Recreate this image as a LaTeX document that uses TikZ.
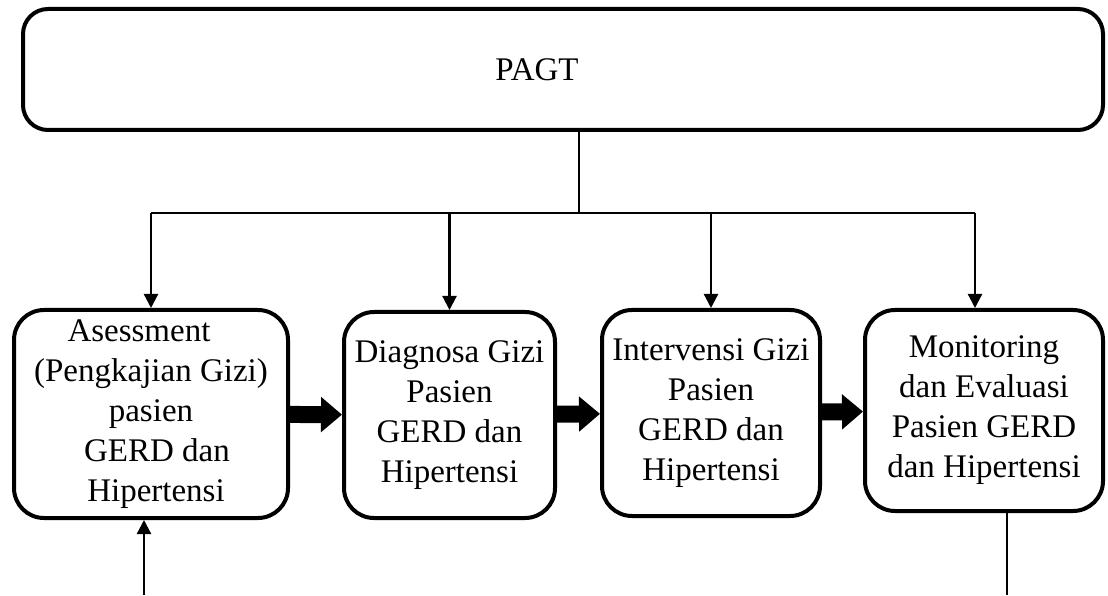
\documentclass[tikz,border=0pt]{standalone}
\usepackage{fontspec}
\setmainfont{Liberation Serif}
\usetikzlibrary{arrows.meta}

\begin{document}
\begin{tikzpicture}[
      x=1pt, y=1pt,
      box/.style={draw, line width=4pt, rounded corners=30pt, align=center,
                  font=\fontsize{33}{40}\selectfont, inner sep=0pt},
      arr/.style={line width=2.2pt, -{Triangle[length=14pt,width=14pt]}},
      heavy/.style={line width=17pt, -{Triangle[length=21pt,width=34pt]}}]
    \useasboundingbox (0,0) rectangle (1108,595);

    \node [box, rounded corners=25pt, minimum width=1080, minimum height=121]
          (pagt) at (563, 525.5) {PAGT\hspace*{52pt}};

    \node [box, minimum width=274, minimum height=208] (b1) at (151, 181)
          {Asessment\hspace*{24pt}\\(Pengkajian Gizi)\hspace*{24pt}\\pasien\hspace*{24pt}\\
           \hspace*{12pt}GERD dan\\\hspace*{10pt}Hipertensi};
    \node [box, minimum width=211, minimum height=206] (b2) at (449.5, 180)
          {Diagnosa Gizi\\Pasien\\GERD dan\\Hipertensi};
    \node [box, minimum width=218, minimum height=206] (b3) at (711, 182)
          {Intervensi Gizi\\Pasien\\GERD dan\\Hipertensi};
    \node [box, minimum width=238, minimum height=201] (b4) at (984, 184.5)
          {Monitoring\\dan Evaluasi\\Pasien GERD\\dan Hipertensi};

    \coordinate (hub) at (579, 382);
    \coordinate (t4)  at (975, 382);
    \coordinate (in)  at (144, 0);
    \coordinate (out) at (1007, 0);

    % dari PAGT ke keempat tahap
    \draw [line width=2.2pt] (hub |- pagt.south) -- (hub);
    \draw [line width=2.2pt] (hub -| b1.north) -- (t4);
    \draw [arr] (hub -| b1.north) -- (b1.north);
    \draw [arr] (hub -| b2.north) -- (b2.north);
    \draw [arr] (hub -| b3.north) -- (b3.north);
    \draw [arr] (t4) -- (t4 |- b4.north);

    \draw [heavy] (b1) -- (b2);
    \draw [heavy] (b2) -- (b3);
    \draw [heavy] (b3) -- (b4);

    \draw [arr] (in) -- (in |- b1.south);
    \draw [line width=2.2pt] (out |- b4.south) -- (out);

  \end{tikzpicture}
\end{document}
